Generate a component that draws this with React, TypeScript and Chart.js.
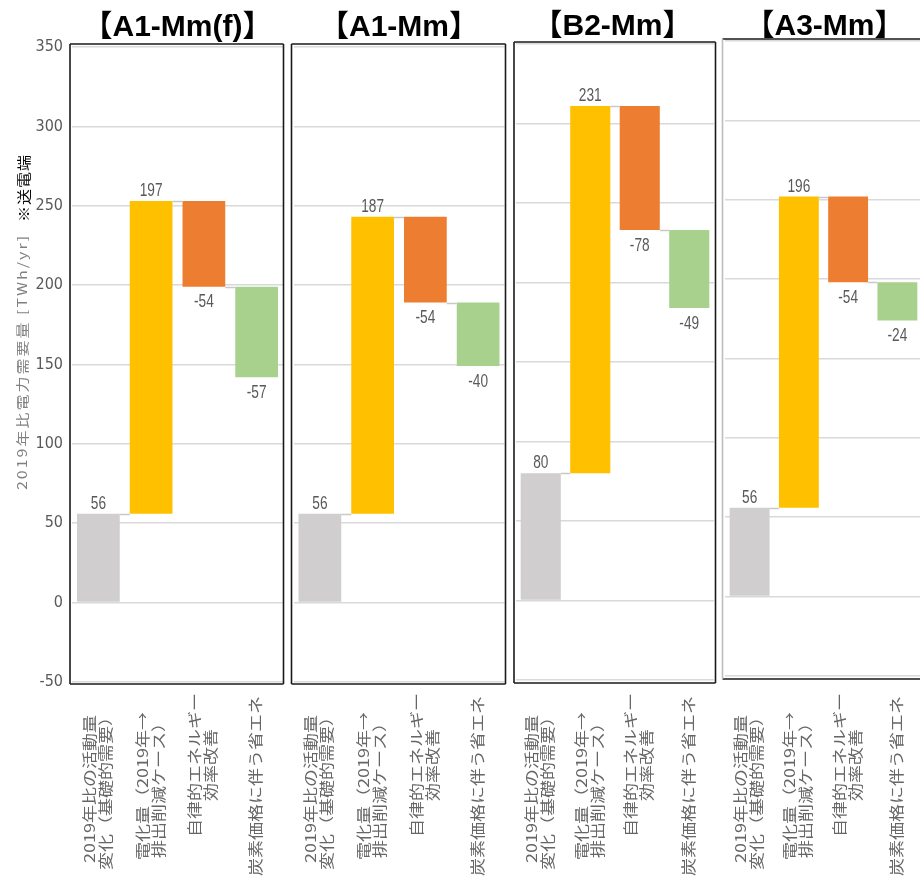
import React, { useEffect, useRef } from 'react';
import { Chart, registerables } from 'chart.js';

Chart.register(...registerables);

// ---------------- data ----------------
const categories: string[][] = [
  ['2019年比の活動量', '変化（基礎的需要）'],
  ['電化量（2019年→', '排出削減ケース）'],
  ['自律的エネルギー', '効率改善'],
  ['炭素価格に伴う省エネ'],
];
const panelTitles = ['【A1-Mm(f)】', '【A1-Mm】', '【B2-Mm】', '【A3-Mm】'];
const deltasA1Mmf = [56, 197, -54, -57];
const deltasA1Mm = [56, 187, -54, -40];
const deltasB2Mm = [80, 231, -78, -49];
const deltasA3Mm = [56, 196, -54, -24];
const panelDeltas = [deltasA1Mmf, deltasA1Mm, deltasB2Mm, deltasA3Mm];
const yMin = -50;
const yMax = 350;
const yStep = 50;
const yAxisTitle = '2019年比電力需要量 [TWh/yr]';
const yAxisNote = '※送電端';
const barColors = ['#d0cece', '#ffc000', '#ed7d31', '#a9d18e'];

// ---------------- layout (positions / styles) ----------------
const CANVAS_W = 940;
const CANVAS_H = 879;
type Layout = {
  left: number; right: number; top: number; bottom: number;
  box: [number, number, number, number];
  leftBorder: string;
  showY: boolean;
  titleX: number; titleY: number;
};
const layouts: Layout[] = [
  { left: 72, right: 283, top: 47, bottom: 682, box: [70, 44, 283.5, 684], leftBorder: '#1a1a1a', showY: true, titleX: 177.5, titleY: 36 },
  { left: 293.5, right: 504.5, top: 47, bottom: 682, box: [291.5, 44, 505.5, 684], leftBorder: '#1a1a1a', showY: false, titleX: 399, titleY: 36 },
  { left: 516, right: 714, top: 44, bottom: 680, box: [514, 42, 715.5, 683], leftBorder: '#1a1a1a', showY: false, titleX: 612.5, titleY: 35 },
  { left: 725, right: 922, top: 41, bottom: 676, box: [722.5, 39, 960, 679], leftBorder: '#bdbdbd', showY: false, titleX: 824.5, titleY: 35 },
];
const labelCenterY = [789, 786, 765, 786];
const labelLineGap = 16;
const GRAY_TEXT = '#595959';
const CJK = "'Noto Sans CJK JP', 'Noto Sans', sans-serif";

function ranges(deltas: number[]): [number, number][] {
  let acc = 0;
  return deltas.map((d) => {
    const s = acc;
    acc += d;
    return [s, acc] as [number, number];
  });
}

function makeDecor(idx: number) {
  const L = layouts[idx];
  const deltas = panelDeltas[idx];
  return {
    id: 'panelDecor' + idx,
    afterDraw(chart: any) {
      const ctx: CanvasRenderingContext2D = chart.ctx;
      const meta = chart.getDatasetMeta(0);
      const yScale = chart.scales.y;
      const xScale = chart.scales.x;
      const rs = ranges(deltas);
      ctx.save();

      // connectors
      ctx.strokeStyle = '#c8c8c8';
      ctx.lineWidth = 1.5;
      for (let i = 0; i < rs.length - 1; i++) {
        const a = meta.data[i];
        const b = meta.data[i + 1];
        const y = Math.round(yScale.getPixelForValue(rs[i][1])) + 0.5;
        ctx.beginPath();
        ctx.moveTo(a.x + a.width / 2, y);
        ctx.lineTo(b.x - b.width / 2, y);
        ctx.stroke();
      }

      // data labels
      ctx.fillStyle = GRAY_TEXT;
      ctx.font = "19px 'Liberation Sans', Arial, sans-serif";
      ctx.textAlign = 'center';
      for (let i = 0; i < rs.length; i++) {
        const el = meta.data[i];
        const top = Math.min(el.y, el.base);
        const bot = Math.max(el.y, el.base);
        ctx.save();
        if (deltas[i] >= 0) {
          ctx.textBaseline = 'alphabetic';
          ctx.translate(el.x, top - 5);
        } else {
          ctx.textBaseline = 'top';
          ctx.translate(el.x, bot + 6);
        }
        ctx.scale(0.72, 1);
        ctx.fillText(String(deltas[i]), 0, 0);
        ctx.restore();
      }

      // x category labels (rotated)
      ctx.fillStyle = '#666666';
      ctx.font = `18px ${CJK}`;
      ctx.textAlign = 'center';
      ctx.textBaseline = 'middle';
      categories.forEach((lines, i) => {
        const cx = xScale.getPixelForValue(i) - 1;
        lines.forEach((line, j) => {
          const x = cx + (j - (lines.length - 1) / 2) * labelLineGap;
          ctx.save();
          ctx.translate(x, labelCenterY[i]);
          ctx.rotate(-Math.PI / 2);
          ctx.scale(1, 0.8);
          ctx.fillText(line, 0, 0);
          ctx.restore();
        });
      });

      // panel box
      const [x0, y0, x1, y1] = L.box;
      ctx.lineWidth = 1.6;
      ctx.strokeStyle = '#1a1a1a';
      ctx.beginPath();
      ctx.moveTo(x0, y0); ctx.lineTo(x1, y0);
      ctx.moveTo(x1, y0); ctx.lineTo(x1, y1);
      ctx.moveTo(x0, y1); ctx.lineTo(x1, y1);
      ctx.stroke();
      ctx.strokeStyle = L.leftBorder;
      ctx.beginPath();
      ctx.moveTo(x0, y0); ctx.lineTo(x0, y1);
      ctx.stroke();

      // panel title
      ctx.fillStyle = '#000000';
      ctx.font = `bold 30px 'Liberation Sans', Arial, ${CJK}`;
      ctx.textAlign = 'center';
      ctx.textBaseline = 'alphabetic';
      ctx.fillText(panelTitles[idx], L.titleX, L.titleY);

      // y axis title + note
      if (L.showY) {
        ctx.save();
        ctx.translate(22, 362);
        ctx.rotate(-Math.PI / 2);
        ctx.scale(1, 0.8);
        ctx.fillStyle = '#808080';
        ctx.font = `16px ${CJK}`;
        (ctx as any).letterSpacing = '2px';
        ctx.textAlign = 'center';
        ctx.textBaseline = 'middle';
        ctx.fillText(yAxisTitle, 0, 0);
        ctx.restore();

        ctx.save();
        ctx.translate(24, 188);
        ctx.rotate(-Math.PI / 2);
        ctx.scale(1, 0.85);
        ctx.fillStyle = '#000000';
        ctx.font = `16px ${CJK}`;
        (ctx as any).letterSpacing = '1px';
        ctx.textAlign = 'center';
        ctx.textBaseline = 'middle';
        ctx.fillText(yAxisNote, 0, 0);
        ctx.restore();
      }
      ctx.restore();
    },
  };
}

function Panel({ idx }: { idx: number }) {
  const ref = useRef<HTMLCanvasElement | null>(null);
  useEffect(() => {
    if (!ref.current) return;
    const L = layouts[idx];
    const chart = new Chart(ref.current, {
      type: 'bar',
      data: {
        labels: categories.map((c) => c.join('')),
        datasets: [
          {
            data: ranges(panelDeltas[idx]) as any,
            backgroundColor: barColors,
            borderWidth: 0,
            barPercentage: 0.81,
            categoryPercentage: 1,
          },
        ],
      },
      options: {
        animation: false,
        responsive: false,
        maintainAspectRatio: false,
        devicePixelRatio: 1,
        layout: {
          padding: { left: L.showY ? 0 : L.left, top: L.top, right: CANVAS_W - L.right, bottom: 0 },
        },
        plugins: {
          legend: { display: false },
          tooltip: { enabled: false },
          title: { display: false },
        },
        scales: {
          x: {
            grid: { display: false },
            border: { display: false },
            ticks: { display: false },
            afterFit: (s: any) => {
              s.height = CANVAS_H - L.bottom;
              s.paddingLeft = 0;
              s.paddingRight = 0;
            },
          },
          y: {
            min: yMin,
            max: yMax,
            border: { display: false },
            grid: { color: '#d9d9d9', lineWidth: 1.6, drawTicks: false, tickLength: 0 },
            ticks: {
              display: L.showY,
              stepSize: yStep,
              padding: 9,
              color: GRAY_TEXT,
              font: { family: "'Liberation Sans Narrow', 'DejaVu Sans Condensed', 'Liberation Sans', sans-serif", size: 16 },
            },
            afterFit: (s: any) => {
              s.width = L.showY ? L.left : 0;
              s.paddingTop = 0;
              s.paddingBottom = 0;
            },
          },
        },
      } as any,
      plugins: [makeDecor(idx)],
    });
    return () => chart.destroy();
  }, [idx]);
  return (
    <canvas
      ref={ref}
      width={CANVAS_W}
      height={CANVAS_H}
      style={{ position: 'absolute', left: 0, top: 0, width: CANVAS_W, height: CANVAS_H }}
    />
  );
}

export default function App() {
  return (
    <div
      style={{
        position: 'absolute',
        left: 0,
        top: 0,
        width: 920,
        height: 879,
        overflow: 'hidden',
        background: '#ffffff',
      }}
    >
      {[0, 1, 2, 3].map((i) => (
        <Panel key={i} idx={i} />
      ))}
    </div>
  );
}
